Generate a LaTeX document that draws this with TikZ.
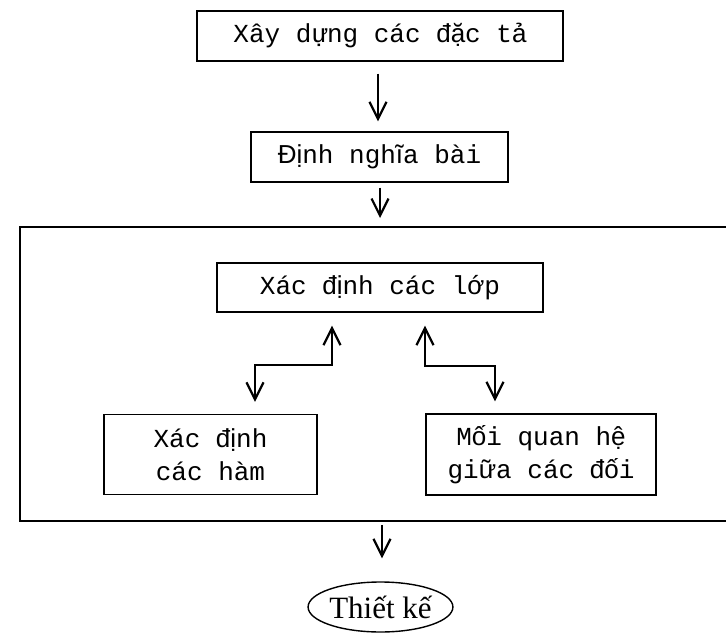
\documentclass[tikz,border=0pt]{standalone}
\usepackage{fontspec}
\setmainfont{Liberation Mono}
\newfontfamily\arf{Liberation Sans}
\newfontfamily\tnr{Liberation Serif}
\newcommand\ar[1]{{\arf #1}}
\usetikzlibrary{arrows.meta,shapes.geometric}
\tikzset{
  box/.style={draw=black, line width=1.4pt, inner sep=0pt, align=center,
    font=\fontsize{26}{33}\selectfont},
  frm/.style={draw=black, line width=1.9pt, inner sep=0pt},
  tipv/.tip={Straight Barb[length=17pt,width=17pt,line width=2.2pt]},
  arr/.style={draw=black, line width=2.2pt, -tipv},
  darr/.style={draw=black, line width=2.2pt, tipv-tipv},
  oval/.style={draw=black, line width=1.4pt, ellipse, inner sep=0pt, font=\tnr\fontsize{31}{35}\selectfont}
}
\begin{document}
\begin{tikzpicture}[x=1pt,y=-1pt]
\useasboundingbox (0,0) rectangle (726,634);
\clip (0,0) rectangle (726,634);
\node[box, minimum width=366pt, minimum height=50pt] (spec) at (380,36) {Xây dựng các \ar{đặ}c t\ar{ả}};
\node[box, minimum width=257pt, minimum height=50pt] (def) at (379.5,157) {\ar{Đị}nh ngh\ar{ĩ}a bài};
\node[frm, minimum width=740pt, minimum height=294pt, anchor=north west] (frame) at (19,226) {};
\node[box, minimum width=326pt, minimum height=49pt] (cls) at (380,287.5) {Xác \ar{đị}nh các l\ar{ớ}p};
\node[box, minimum width=213pt, minimum height=80pt] (fun) at (210.5,454.5) {Xác \ar{đị}nh\\các hàm};
\node[box, minimum width=230pt, minimum height=81pt] (rel) at (541,454.5) {M\ar{ố}i quan h\ar{ệ}\\gi\ar{ữ}a các \ar{đố}i};
\node[oval, minimum width=135pt, minimum height=50pt] (des) at (380.5,607) {Thiết kế};
% arrows
\draw[arr, shorten <=12pt, shorten >=10pt] (spec.south -| 378,0) -- (def.north -| 378,0);
\draw[arr, shorten <=5pt, shorten >=8pt] (def.south -| 380,0) -- (frame.north -| 380,0);
\draw[arr, shorten <=3pt, shorten >=23pt] (frame.south -| 382,0) -- (des.north -| 382,0);
\coordinate (la) at (255,365);
\coordinate (lb) at (332,365);
\coordinate (ra) at (425,366);
\coordinate (rb) at (495,366);
\draw[darr, shorten <=12pt, shorten >=13pt] (la |- fun.north) -- (la) -- (lb) -- (lb |- cls.south);
\draw[darr, shorten <=13pt, shorten >=12pt] (ra |- cls.south) -- (ra) -- (rb) -- (rb |- rel.north);
\end{tikzpicture}
\end{document}
